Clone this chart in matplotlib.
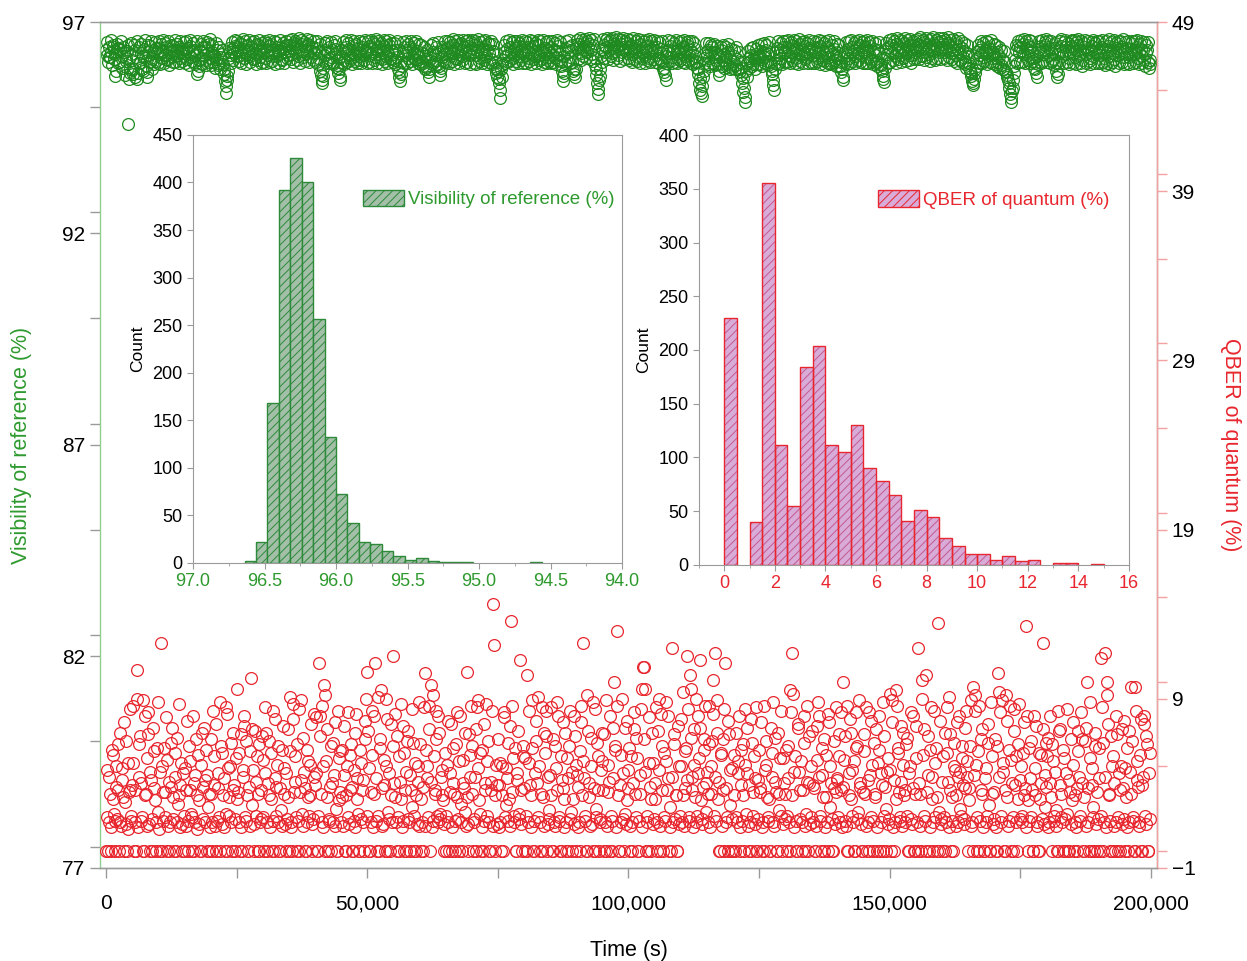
import numpy as np
import matplotlib
matplotlib.use("Agg")
import matplotlib.pyplot as plt
from matplotlib.ticker import MultipleLocator
from matplotlib.patches import Patch

plt.rcParams['font.family'] = ['Liberation Sans', 'DejaVu Sans']
plt.rcParams['hatch.linewidth'] = 0.7

# ---- data -------------------------------------------------------------
STEP_S = 250  # sampling step of each series (s); series B is offset by half a step

# visibility of reference (%), 20 samples per row = 5000 s per row
VIS_A = [
    96.35, 96.22, 96.41, 96.18, 96.30, 96.45, 96.12, 95.72, 96.28, 96.38, 96.05, 96.33, 96.20, 96.42, 95.95, 96.15, 96.31, 94.59, 95.80, 96.24,
    96.10, 95.78, 96.33, 96.18, 95.65, 96.40, 96.02, 96.27, 95.85, 96.36, 96.14, 95.70, 96.30, 96.21, 96.44, 95.90, 96.26, 96.35, 96.08, 96.29,
    96.38, 96.25, 96.47, 96.16, 96.32, 96.22, 96.40, 96.11, 96.29, 96.36, 96.19, 96.44, 96.27, 96.05, 96.34, 96.23, 96.41, 96.15, 96.31, 96.26,
    96.20, 96.37, 96.12, 96.30, 96.43, 96.18, 96.28, 96.06, 96.35, 96.24, 95.77, 95.95, 96.32, 96.15, 96.40, 96.22, 96.09, 96.33, 96.26, 96.48,
    96.15, 96.28, 96.05, 96.22, 96.12, 96.33, 95.98, 96.18, 96.09, 96.25, 95.88, 95.60, 95.32, 95.72, 96.14, 96.30, 96.21, 96.38, 96.27, 96.44,
    96.32, 96.41, 96.20, 96.47, 96.29, 96.36, 96.15, 96.43, 96.25, 96.33, 96.19, 96.40, 96.28, 96.12, 96.37, 96.24, 96.45, 96.30, 96.18, 96.35,
    96.27, 96.39, 96.16, 96.33, 96.22, 96.44, 96.30, 96.08, 96.35, 96.26, 96.42, 96.19, 96.31, 96.24, 96.40, 96.13, 96.36, 96.28, 96.46, 96.21,
    96.34, 96.45, 96.25, 96.38, 96.50, 96.29, 96.41, 96.20, 96.36, 96.47, 96.31, 96.24, 96.43, 96.35, 96.27, 96.49, 96.32, 96.18, 96.40, 96.30,
    96.26, 96.38, 96.15, 96.31, 95.85, 95.62, 95.72, 96.22, 96.35, 96.10, 96.29, 96.40, 96.18, 96.33, 96.05, 96.25, 96.37, 95.92, 96.14, 95.70,
    96.20, 96.34, 96.11, 96.28, 96.42, 96.23, 96.36, 96.16, 96.30, 96.45, 96.25, 96.19, 96.38, 96.27, 96.09, 96.33, 96.41, 96.22, 96.35, 96.29,
    96.31, 96.44, 96.21, 96.36, 96.26, 96.48, 96.17, 96.33, 96.40, 96.24, 96.37, 96.12, 96.30, 96.43, 96.20, 96.35, 96.27, 96.46, 96.15, 96.32,
    96.25, 96.10, 96.33, 96.18, 95.82, 95.60, 96.05, 96.29, 96.40, 96.22, 96.35, 96.14, 96.30, 96.42, 96.19, 96.36, 96.26, 96.09, 96.32, 96.24,
    96.18, 96.08, 96.27, 96.02, 96.20, 95.94, 96.12, 95.70, 96.25, 96.15, 96.30, 96.05, 96.22, 96.11, 96.28, 95.96, 95.75, 96.17, 96.33, 96.24,
    96.36, 96.25, 96.41, 96.20, 96.32, 96.45, 96.27, 96.14, 96.38, 96.29, 96.47, 96.23, 96.34, 96.19, 96.40, 96.30, 96.44, 96.26, 96.35, 96.22,
    96.39, 96.28, 96.46, 96.21, 96.33, 96.42, 96.16, 96.30, 96.37, 96.25, 96.43, 96.19, 96.35, 96.27, 96.48, 96.13, 96.31, 96.24, 96.05, 95.88,
    95.85, 95.55, 95.20, 95.70, 96.10, 96.28, 96.19, 96.36, 96.25, 96.41, 96.30, 96.15, 96.33, 96.22, 96.38, 96.27, 96.44, 96.20, 96.31, 96.26,
    96.34, 96.21, 96.40, 96.28, 96.15, 96.37, 96.25, 96.43, 96.19, 96.32, 96.27, 96.46, 96.22, 96.35, 96.12, 96.30, 96.39, 96.24, 96.33, 96.18,
    96.29, 96.40, 96.22, 96.35, 96.16, 96.31, 96.44, 96.25, 96.08, 95.85, 95.60, 96.20, 96.36, 96.27, 96.42, 96.18, 96.33, 96.05, 95.90, 95.70,
    96.38, 96.47, 96.30, 96.42, 96.26, 96.51, 96.35, 96.44, 96.29, 96.40, 96.48, 96.33, 96.25, 96.45, 96.15, 95.90, 95.55, 95.30, 95.72, 96.20,
    96.37, 96.46, 96.28, 96.41, 96.52, 96.33, 96.44, 96.26, 96.39, 96.49, 96.31, 96.43, 96.22, 96.38, 96.47, 96.30, 96.42, 96.35, 96.50, 96.27,
    96.40, 96.32, 96.45, 96.24, 96.38, 96.29, 96.43, 96.18, 96.35, 96.47, 96.27, 96.39, 96.21, 96.34, 96.44, 96.30, 96.15, 96.36, 96.26, 96.41,
    96.33, 96.22, 96.40, 96.14, 96.28, 96.37, 96.05, 95.92, 95.75, 96.20, 96.35, 96.27, 96.43, 96.18, 96.31, 96.39, 96.24, 96.34, 96.12, 96.29,
    96.36, 96.25, 96.42, 96.19, 96.31, 96.45, 96.23, 96.34, 96.12, 96.29, 96.38, 96.20, 96.05, 95.90, 95.55, 95.40, 95.25, 95.70, 96.15, 96.30,
    96.22, 96.35, 96.14, 96.28, 96.40, 96.17, 96.30, 96.09, 96.24, 95.85, 96.19, 96.33, 96.11, 96.25, 96.04, 96.18, 96.29, 95.95, 96.12, 96.00,
    96.08, 96.20, 95.98, 96.12, 95.90, 96.05, 95.75, 95.55, 95.35, 95.10, 95.85, 96.02, 96.15, 96.07, 96.22, 96.00, 96.18, 96.10, 96.25, 96.14,
    96.20, 96.32, 96.12, 96.27, 96.18, 96.35, 96.08, 96.24, 96.30, 95.95, 95.78, 95.50, 96.02, 96.28, 96.38, 96.21, 96.33, 96.16, 96.41, 96.26,
    96.30, 96.42, 96.23, 96.36, 96.19, 96.45, 96.28, 96.33, 96.14, 96.39, 96.25, 96.47, 96.21, 96.34, 96.27, 96.43, 96.17, 96.31, 96.38, 96.24,
    96.35, 96.22, 96.41, 96.29, 96.15, 96.37, 96.26, 96.44, 96.20, 96.32, 96.08, 96.28, 96.40, 96.18, 96.33, 96.02, 96.25, 96.36, 96.11, 96.21,
    96.14, 96.26, 95.95, 96.05, 95.70, 96.18, 96.30, 96.22, 96.36, 96.15, 96.28, 96.41, 96.24, 96.33, 96.19, 96.38, 96.27, 96.45, 96.21, 96.35,
    96.29, 96.40, 96.18, 96.34, 96.25, 96.43, 96.12, 96.31, 96.37, 96.22, 96.06, 96.33, 96.27, 95.98, 95.85, 95.65, 96.15, 96.36, 96.24, 96.41,
    96.32, 96.45, 96.26, 96.38, 96.20, 96.47, 96.34, 96.29, 96.42, 96.23, 96.36, 96.50, 96.27, 96.40, 96.31, 96.46, 96.22, 96.37, 96.44, 96.30,
    96.41, 96.33, 96.49, 96.28, 96.44, 96.37, 96.52, 96.30, 96.46, 96.39, 96.25, 96.43, 96.35, 96.48, 96.31, 96.45, 96.38, 96.53, 96.29, 96.42,
    96.36, 96.47, 96.30, 96.42, 96.51, 96.34, 96.45, 96.27, 96.40, 96.33, 96.48, 96.22, 96.37, 96.43, 96.25, 96.39, 96.18, 96.31, 96.08, 96.26,
    96.20, 95.92, 95.80, 95.60, 95.55, 95.88, 96.12, 96.28, 96.35, 96.22, 96.40, 96.30, 96.17, 96.33, 96.26, 96.42, 96.21, 96.36, 96.14, 96.29,
    96.25, 96.15, 96.30, 96.06, 96.20, 95.98, 96.12, 95.90, 96.05, 95.82, 95.70, 95.55, 95.30, 95.10, 95.45, 95.80, 96.10, 96.35, 96.44, 96.28,
    96.40, 96.31, 96.47, 96.25, 96.38, 96.45, 96.22, 96.34, 96.41, 96.28, 96.16, 96.03, 95.80, 96.20, 96.37, 96.29, 96.43, 96.24, 96.35, 96.46,
    96.30, 96.42, 96.21, 96.36, 96.27, 96.12, 96.38, 96.02, 95.70, 96.25, 96.33, 96.44, 96.19, 96.31, 96.40, 96.24, 96.35, 96.15, 96.29, 96.43,
    96.26, 96.39, 96.18, 96.33, 96.45, 96.22, 96.35, 96.10, 96.30, 96.41, 96.24, 96.37, 96.28, 96.16, 96.34, 96.43, 96.20, 96.32, 96.39, 96.25,
    96.35, 96.22, 96.41, 96.28, 96.14, 96.37, 96.30, 96.44, 96.19, 96.33, 96.26, 96.40, 96.12, 96.31, 96.38, 96.23, 96.36, 96.27, 96.42, 96.18,
    96.32, 96.24, 96.39, 96.17, 96.30, 96.36, 96.21, 96.34, 96.26, 96.40, 96.15, 96.29, 96.37, 96.20, 96.33, 96.11, 96.27, 96.35, 96.06, 96.00,
]

VIS_B = [
    96.52, 96.05, 96.18, 96.58, 95.98, 96.40, 96.25, 95.85, 96.48, 96.02, 96.36, 96.55, 95.92, 96.30, 95.75, 96.08, 96.45, 95.65, 95.90, 96.50,
    95.88, 96.45, 95.70, 96.55, 95.80, 96.02, 96.48, 95.90, 96.20, 96.58, 95.97, 95.82, 96.46, 96.06, 96.55, 96.12, 96.00, 96.52, 96.38, 96.04,
    96.55, 96.00, 96.30, 96.58, 96.04, 96.50, 96.12, 96.56, 95.98, 96.46, 96.35, 96.06, 96.57, 96.20, 96.48, 96.02, 96.55, 96.36, 96.08, 96.52,
    96.02, 96.54, 96.38, 95.98, 96.57, 96.08, 96.50, 96.22, 96.00, 96.55, 95.85, 96.10, 96.48, 96.00, 96.56, 96.40, 95.98, 96.52, 96.06, 96.60,
    95.98, 96.45, 96.20, 95.92, 96.50, 96.02, 96.40, 95.88, 96.35, 96.00, 95.78, 95.48, 95.62, 95.85, 96.38, 96.02, 96.52, 96.10, 96.57, 96.20,
    96.56, 96.08, 96.50, 96.02, 96.60, 96.14, 96.54, 96.00, 96.45, 96.58, 96.06, 96.52, 96.12, 96.56, 96.00, 96.47, 96.10, 96.58, 96.04, 96.50,
    96.05, 96.55, 96.02, 96.50, 96.57, 96.06, 96.48, 96.20, 96.56, 96.00, 96.52, 96.35, 96.04, 96.58, 96.10, 96.50, 96.02, 96.55, 96.15, 96.46,
    96.58, 96.12, 96.60, 96.06, 96.55, 96.48, 96.10, 96.62, 96.04, 96.57, 96.18, 96.52, 96.08, 96.60, 96.45, 96.05, 96.58, 96.40, 96.10, 96.56,
    96.05, 96.55, 96.00, 96.48, 95.75, 95.55, 95.92, 96.50, 96.02, 96.56, 96.12, 96.04, 96.52, 96.00, 96.45, 96.55, 95.98, 95.80, 95.88, 95.62,
    96.02, 96.52, 96.00, 96.58, 96.06, 96.50, 96.10, 96.57, 96.00, 96.55, 96.08, 96.48, 96.02, 96.56, 96.20, 96.04, 96.53, 96.10, 96.57, 96.02,
    96.55, 96.06, 96.58, 96.04, 96.52, 96.10, 96.60, 96.02, 96.55, 96.15, 96.50, 96.00, 96.57, 96.08, 96.54, 96.04, 96.58, 96.12, 96.50, 96.06,
    96.50, 96.00, 96.55, 95.90, 95.70, 95.78, 95.95, 96.52, 96.04, 96.56, 96.02, 96.48, 96.08, 96.55, 96.00, 96.50, 96.12, 96.56, 96.02, 96.48,
    96.00, 96.45, 95.95, 96.40, 95.88, 96.35, 95.82, 95.90, 96.46, 96.00, 96.50, 95.95, 96.42, 96.00, 96.52, 95.85, 95.92, 96.40, 96.05, 96.55,
    96.05, 96.56, 96.02, 96.52, 96.08, 96.60, 96.00, 96.55, 96.12, 96.57, 96.04, 96.50, 96.10, 96.58, 96.02, 96.54, 96.06, 96.57, 96.00, 96.52,
    96.58, 96.04, 96.55, 96.00, 96.60, 96.08, 96.52, 96.02, 96.56, 96.10, 96.58, 96.00, 96.50, 96.05, 96.55, 96.00, 96.48, 95.92, 95.80, 95.70,
    95.65, 95.40, 95.90, 95.98, 96.45, 96.02, 96.55, 96.06, 96.58, 96.10, 96.52, 96.00, 96.56, 96.08, 96.55, 96.02, 96.50, 96.10, 96.57, 96.04,
    96.56, 96.02, 96.52, 96.08, 96.58, 96.00, 96.55, 96.12, 96.50, 96.04, 96.57, 96.10, 96.54, 96.00, 96.58, 96.06, 96.52, 96.02, 96.56, 96.08,
    96.02, 96.55, 96.06, 96.50, 96.00, 96.57, 96.10, 96.52, 95.95, 95.72, 95.80, 96.02, 96.55, 96.08, 96.58, 96.02, 96.45, 95.85, 95.78, 95.88,
    96.58, 96.12, 96.62, 96.10, 96.57, 96.20, 96.60, 96.15, 96.55, 96.62, 96.12, 96.58, 96.08, 96.60, 95.98, 95.75, 95.42, 95.62, 95.88, 96.05,
    96.60, 96.15, 96.57, 96.62, 96.12, 96.58, 96.20, 96.63, 96.10, 96.57, 96.65, 96.15, 96.60, 96.08, 96.58, 96.62, 96.12, 96.55, 96.60, 96.14,
    96.10, 96.58, 96.06, 96.62, 96.12, 96.55, 96.08, 96.60, 96.04, 96.57, 96.14, 96.55, 96.02, 96.58, 96.10, 96.60, 96.05, 96.56, 96.12, 96.58,
    96.06, 96.56, 96.02, 96.52, 96.10, 96.55, 95.90, 95.82, 95.62, 96.04, 96.57, 96.08, 96.55, 96.02, 96.50, 96.06, 96.58, 96.04, 96.52, 96.10,
    96.55, 96.06, 96.58, 96.02, 96.52, 96.10, 96.56, 96.04, 96.55, 96.00, 96.50, 96.08, 95.92, 95.78, 95.68, 95.32, 95.48, 95.85, 96.02, 96.50,
    96.00, 96.50, 95.95, 96.45, 96.02, 96.48, 95.98, 96.44, 96.00, 95.75, 96.40, 95.96, 96.46, 95.92, 96.42, 96.00, 96.48, 95.88, 96.36, 95.92,
    96.35, 95.90, 96.40, 95.88, 96.30, 95.85, 95.92, 95.68, 95.45, 95.22, 95.70, 96.32, 95.92, 96.38, 95.95, 96.42, 95.90, 96.36, 96.00, 96.45,
    96.00, 96.48, 95.95, 96.50, 96.02, 96.46, 95.98, 96.52, 96.05, 95.85, 95.62, 95.40, 95.88, 96.00, 96.55, 96.04, 96.50, 96.00, 96.56, 96.06,
    96.56, 96.05, 96.58, 96.02, 96.52, 96.10, 96.57, 96.04, 96.55, 96.00, 96.60, 96.08, 96.52, 96.02, 96.56, 96.12, 96.50, 96.04, 96.57, 96.06,
    96.04, 96.55, 96.02, 96.52, 96.08, 96.57, 96.00, 96.55, 96.10, 96.50, 95.98, 96.54, 96.04, 96.58, 96.00, 96.46, 96.06, 96.55, 95.96, 96.48,
    95.95, 96.45, 95.82, 95.90, 95.62, 96.02, 96.52, 96.00, 96.55, 96.04, 96.57, 96.08, 96.50, 96.02, 96.56, 96.10, 96.58, 96.06, 96.52, 96.04,
    96.55, 96.04, 96.58, 96.02, 96.52, 96.08, 96.56, 96.00, 96.50, 96.04, 95.96, 96.52, 96.00, 95.88, 95.72, 95.58, 95.92, 96.50, 96.04, 96.57,
    96.06, 96.60, 96.10, 96.56, 96.04, 96.62, 96.12, 96.58, 96.06, 96.55, 96.14, 96.62, 96.08, 96.57, 96.10, 96.60, 96.04, 96.55, 96.12, 96.58,
    96.15, 96.60, 96.12, 96.64, 96.20, 96.58, 96.10, 96.62, 96.18, 96.57, 96.08, 96.60, 96.14, 96.65, 96.10, 96.58, 96.16, 96.62, 96.12, 96.56,
    96.62, 96.14, 96.58, 96.10, 96.65, 96.18, 96.57, 96.12, 96.60, 96.08, 96.56, 96.04, 96.62, 96.10, 96.55, 96.06, 96.50, 96.00, 95.92, 96.45,
    96.02, 95.85, 95.72, 95.50, 95.65, 95.80, 95.95, 96.45, 96.04, 96.55, 96.02, 96.50, 96.08, 96.56, 96.00, 96.52, 96.06, 96.57, 96.02, 96.48,
    96.00, 96.45, 95.95, 96.40, 95.92, 96.35, 95.88, 96.32, 95.85, 95.75, 95.62, 95.45, 95.20, 95.38, 95.62, 95.95, 96.45, 96.02, 96.56, 96.06,
    96.57, 96.06, 96.60, 96.04, 96.55, 96.10, 96.58, 96.02, 96.56, 96.08, 95.92, 95.88, 95.70, 96.00, 96.55, 96.04, 96.58, 96.08, 96.52, 96.60,
    96.05, 96.56, 96.02, 96.55, 96.08, 95.98, 96.50, 95.85, 95.78, 96.04, 96.55, 96.60, 96.02, 96.52, 96.57, 96.06, 96.50, 96.00, 96.55, 96.58,
    96.04, 96.57, 96.00, 96.52, 96.60, 96.04, 96.55, 95.96, 96.50, 96.58, 96.02, 96.55, 96.08, 96.00, 96.52, 96.58, 96.02, 96.50, 96.56, 96.04,
    96.56, 96.02, 96.58, 96.06, 95.98, 96.55, 96.04, 96.60, 96.00, 96.52, 96.06, 96.57, 95.96, 96.50, 96.56, 96.02, 96.55, 96.06, 96.60, 96.00,
    96.52, 96.04, 96.56, 96.00, 96.50, 96.55, 96.02, 96.54, 96.06, 96.58, 96.00, 96.48, 96.55, 96.02, 96.52, 95.95, 96.45, 96.52, 95.92, 96.10,
]

# QBER of quantum (%), same sampling
QBER_A = [
    0, 4.8, 1.7, 3.4, 0, 5.7, 2.2, 1.8, 3.8, 6.3, 0, 1.7, 4.2, 3.2, 7.6, 1.6, 0, 5.2, 3.6, 1.8,
    3.9, 8.6, 1.7, 0, 10.7, 4.4, 6.8, 1.8, 8.9, 0, 3.3, 5.5, 8.2, 1.6, 4.7, 0, 7.3, 3.7, 1.7, 6.1,
    2.3, 0, 12.3, 5.0, 1.8, 3.5, 7.9, 0, 4.1, 1.7, 6.4, 3.2, 0, 5.8, 1.7, 2.8, 8.7, 3.9, 1.6, 4.6,
    0, 3.6, 7.7, 1.8, 5.3, 2.2, 0, 4.0, 1.7, 6.6, 3.3, 1.6, 0, 5.1, 3.8, 7.3, 1.7, 4.5, 2.6, 0,
    3.4, 1.7, 8.3, 5.6, 0, 1.8, 3.7, 8.8, 6.2, 1.6, 4.3, 0, 2.2, 8.1, 3.2, 5.0, 1.7, 7.0, 3.9, 0,
    9.6, 3.5, 1.7, 6.9, 0, 4.8, 7.4, 1.8, 3.3, 0, 5.9, 10.2, 2.7, 1.6, 7.1, 4.1, 0, 6.3, 1.7, 3.6,
    5.4, 0, 8.5, 1.7, 4.0, 6.5, 3.1, 0, 1.8, 7.8, 3.8, 5.1, 1.7, 0, 2.4, 6.0, 3.4, 1.6, 4.6, 7.2,
    0, 9.1, 1.7, 8.7, 3.5, 5.6, 0, 1.8, 8.4, 4.2, 2.2, 6.7, 3.7, 0, 1.7, 5.3, 3.3, 7.5, 1.6, 4.4,
    3.9, 7.9, 0, 11.1, 8.0, 1.7, 5.0, 9.8, 9.2, 3.2, 0, 1.8, 6.2, 4.0, 1.7, 7.6, 2.5, 0, 5.5, 3.5,
    1.7, 6.0, 4.5, 0, 3.3, 8.2, 1.6, 5.7, 3.8, 0, 1.8, 7.0, 4.3, 2.2, 0, 5.2, 3.6, 1.7, 6.6, 9.0,
    10.6, 4.9, 0, 1.7, 8.3, 3.4, 11.1, 1.8, 9.1, 0, 6.1, 3.7, 1.6, 5.4, 9.0, 0, 2.3, 4.6, 7.5, 1.7,
    11.5, 3.2, 1.7, 6.8, 0, 4.1, 8.7, 1.8, 5.8, 3.6, 0, 7.1, 1.7, 4.5, 2.6, 6.4, 0, 3.3, 1.6, 5.0,
    8.8, 0, 1.7, 3.8, 10.5, 6.0, 4.3, 8.6, 0, 9.8, 1.8, 5.6, 3.4, 8.3, 1.7, 7.0, 2.2, 4.8, 3.0, 1.6,
    0, 5.1, 1.7, 3.5, 7.5, 0, 4.0, 1.8, 6.3, 3.2, 0, 8.0, 1.7, 5.4, 3.7, 2.3, 10.6, 1.6, 6.9, 4.4,
    3.4, 0, 1.7, 7.2, 8.5, 4.9, 2.2, 0, 6.0, 1.8, 3.6, 8.7, 5.3, 1.7, 0, 4.1, 14.6, 12.2, 3.3, 1.6,
    6.6, 3.9, 1.7, 5.0, 0, 8.2, 2.7, 4.3, 1.8, 7.4, 13.6, 3.5, 1.7, 6.1, 0, 4.6, 2.2, 11.3, 1.6, 5.6,
    3.7, 0, 10.4, 1.7, 5.2, 3.3, 8.9, 0, 1.8, 6.5, 4.0, 9.1, 1.7, 3.4, 0, 7.0, 5.8, 8.3, 1.6, 2.4,
    4.5, 8.5, 0, 1.7, 6.2, 3.6, 8.0, 1.8, 0, 4.2, 7.6, 3.1, 1.7, 5.5, 0, 8.3, 2.3, 4.7, 1.6, 6.8,
    0, 3.8, 1.7, 5.9, 8.6, 12.3, 4.3, 1.8, 0, 7.1, 3.2, 5.0, 1.6, 8.8, 0, 2.5, 6.4, 3.6, 1.7, 4.8,
    5.3, 0, 1.7, 8.9, 3.5, 4.1, 0, 1.8, 7.3, 10.0, 6.0, 13.0, 3.3, 0, 1.7, 9.0, 4.6, 2.2, 1.6, 7.7,
    3.7, 0, 5.6, 1.7, 8.2, 3.4, 6.7, 0, 1.8, 4.5, 9.6, 10.9, 10.9, 9.6, 1.7, 0, 5.2, 3.1, 7.0, 1.6,
    4.0, 8.5, 1.7, 9.0, 0, 8.1, 3.6, 5.8, 1.8, 8.8, 4.3, 0, 2.6, 12.0, 1.7, 6.3, 3.3, 0, 7.4, 1.6,
    5.0, 1.7, 9.4, 3.7, 6.1, 11.5, 1.8, 10.4, 9.6, 4.4, 7.2, 3.2, 1.7, 8.0, 5.5, 11.3, 1.6, 3.8, 6.6, 2.3,
    4.7, 1.7, 8.6, 3.4, 6.5, 10.1, 11.7, 1.8, 8.9, 4.1, 0, 5.7, 3.6, 8.4, 11.1, 1.7, 0, 6.9, 2.7, 4.9,
    0, 3.3, 7.0, 1.7, 5.3, 0, 3.9, 1.8, 6.3, 8.4, 2.2, 4.6, 0, 1.7, 7.8, 3.5, 5.6, 1.6, 0, 4.2,
    6.0, 3.7, 0, 1.7, 8.6, 5.1, 3.2, 1.8, 0, 7.3, 4.4, 1.7, 6.7, 3.5, 0, 2.4, 5.5, 8.3, 1.6, 4.0,
    3.4, 0, 6.2, 1.7, 9.5, 11.7, 9.3, 4.7, 1.8, 0, 7.5, 3.6, 5.3, 1.7, 8.0, 0, 2.2, 4.1, 6.8, 1.6,
    5.0, 1.7, 3.7, 0, 7.4, 8.8, 4.4, 1.8, 6.1, 3.2, 0, 5.7, 1.7, 8.1, 2.6, 4.0, 0, 6.5, 1.6, 3.5,
    4.3, 6.9, 1.7, 3.6, 10.0, 5.4, 1.8, 8.6, 0, 3.3, 7.0, 4.8, 1.7, 0, 8.2, 6.2, 2.3, 3.8, 1.6, 0,
    5.9, 3.4, 8.5, 1.7, 0, 4.5, 7.7, 1.8, 6.4, 3.2, 0, 5.2, 8.0, 1.7, 3.9, 0, 6.8, 2.5, 4.7, 1.6,
    9.3, 0, 8.9, 4.2, 1.7, 9.5, 6.1, 3.5, 1.8, 7.4, 5.1, 3.3, 1.7, 6.7, 0, 4.6, 8.2, 1.6, 3.7, 0,
    5.5, 1.7, 12.0, 3.4, 0, 10.1, 7.2, 1.8, 10.4, 4.5, 0, 6.0, 3.1, 1.7, 8.3, 5.2, 0, 13.5, 2.3, 1.6,
    4.1, 0, 7.0, 1.7, 5.8, 9.1, 3.6, 0, 1.8, 6.4, 4.8, 3.3, 1.7, 8.0, 2.5, 5.5, 3.9, 1.6, 7.3, 4.4,
    0, 3.7, 8.9, 1.7, 9.7, 9.2, 5.1, 0, 8.6, 1.8, 6.6, 3.4, 0, 4.3, 1.7, 7.5, 2.7, 0, 5.6, 1.6,
    3.5, 0, 6.2, 10.5, 9.4, 1.7, 8.9, 4.7, 0, 9.2, 3.2, 1.8, 8.6, 5.4, 0, 7.1, 3.9, 1.7, 6.3, 8.7,
    4.2, 1.7, 5.8, 3.3, 13.3, 8.0, 0, 1.8, 6.5, 3.6, 0, 4.9, 7.4, 1.7, 0, 3.1, 5.7, 12.3, 1.6, 4.5,
    3.8, 6.7, 1.7, 4.0, 0, 5.3, 1.8, 2.4, 0, 8.3, 7.2, 3.4, 1.7, 6.0, 0, 4.6, 2.2, 0, 3.5, 1.6,
    5.1, 0, 1.7, 3.7, 7.1, 4.4, 1.8, 6.6, 0, 3.2, 7.3, 10.0, 1.7, 5.5, 0, 3.9, 2.6, 6.2, 1.6, 0,
    4.3, 0, 11.4, 6.4, 1.7, 11.7, 10.0, 7.5, 3.4, 1.8, 0, 5.6, 4.0, 1.7, 6.9, 0, 3.6, 5.0, 1.6, 7.7,
    0, 3.2, 6.1, 1.7, 4.7, 9.7, 1.8, 0, 9.7, 5.3, 3.8, 1.7, 7.8, 0, 4.4, 7.5, 1.6, 6.3, 0, 5.8,
]

QBER_B = [
    2.0, 0, 4.4, 1.4, 6.0, 3.1, 0, 5.0, 1.9, 3.6, 7.0, 1.5, 4.9, 0, 2.9, 6.5, 1.3, 3.5, 8.4, 2.1,
    5.2, 0, 3.6, 9.0, 1.4, 6.3, 4.0, 2.0, 0, 8.0, 3.4, 1.5, 6.9, 0, 4.2, 1.9, 5.9, 3.0, 0, 8.8,
    1.3, 4.7, 0, 3.5, 6.1, 2.0, 5.4, 1.5, 0, 3.8, 7.3, 1.9, 4.4, 0, 6.7, 3.3, 1.4, 5.2, 0, 2.1,
    4.9, 1.5, 0, 6.2, 3.6, 2.0, 8.0, 0, 4.5, 1.3, 5.7, 3.0, 0, 7.0, 1.9, 4.2, 6.0, 0, 3.4, 1.4,
    6.6, 0, 3.9, 1.5, 7.5, 4.6, 2.0, 0, 5.8, 3.3, 1.4, 8.5, 0, 4.9, 2.1, 6.4, 0, 3.6, 1.9, 5.5,
    3.1, 5.8, 0, 1.4, 4.4, 8.0, 2.0, 6.5, 0, 3.8, 1.5, 7.2, 4.8, 0, 2.1, 5.6, 3.4, 0, 1.9, 6.8,
    2.0, 4.6, 7.0, 0, 3.3, 1.4, 5.8, 8.3, 0, 4.3, 2.1, 6.2, 0, 3.7, 1.5, 7.4, 4.9, 0, 1.9, 3.2,
    5.9, 1.4, 0, 7.8, 4.1, 2.0, 6.3, 0, 3.5, 8.9, 1.5, 4.7, 0, 6.0, 3.2, 2.1, 5.1, 0, 1.9, 8.1,
    4.6, 0, 2.1, 6.8, 3.4, 8.6, 1.4, 0, 5.3, 7.2, 1.9, 3.8, 0, 6.4, 4.5, 1.5, 0, 8.3, 3.0, 5.9,
    3.2, 1.5, 7.4, 0, 5.0, 2.0, 3.6, 6.3, 0, 4.8, 1.4, 8.1, 3.1, 0, 6.0, 1.9, 4.2, 0, 7.7, 2.1,
    7.1, 0, 3.5, 5.7, 1.4, 8.0, 4.3, 0, 2.1, 6.6, 9.5, 1.5, 3.9, 0, 5.0, 7.8, 1.9, 0, 3.3, 6.2,
    4.0, 8.1, 0, 2.0, 5.6, 3.1, 1.4, 7.4, 0, 4.7, 6.5, 1.9, 0, 3.6, 8.4, 2.1, 5.2, 0, 4.1, 1.5,
    6.3, 3.1, 0, 8.5, 1.5, 5.0, 2.0, 7.2, 4.1, 1.4, 9.2, 3.6, 6.6, 2.1, 8.0, 1.9, 4.4, 3.3, 0, 5.8,
    2.1, 7.7, 0, 4.6, 1.4, 6.1, 3.4, 0, 8.2, 1.9, 5.3, 2.8, 0, 4.0, 7.0, 1.5, 3.2, 0, 5.7, 8.6,
    6.2, 1.9, 4.4, 0, 8.9, 3.0, 5.8, 1.4, 0, 7.5, 4.0, 2.1, 6.5, 0, 3.6, 8.3, 1.5, 0, 5.1, 3.9,
    1.4, 5.2, 0, 3.3, 7.9, 2.0, 4.9, 6.4, 3.1, 1.5, 8.6, 5.5, 2.1, 0, 4.2, 7.1, 1.9, 3.6, 0, 6.2,
    5.5, 2.1, 0, 8.3, 3.9, 1.4, 6.1, 0, 4.6, 7.7, 2.0, 5.0, 0, 8.5, 3.2, 1.5, 6.8, 0, 4.4, 1.9,
    3.3, 0, 6.6, 1.5, 4.9, 8.8, 2.0, 0, 5.6, 3.7, 1.4, 7.0, 0, 4.3, 6.2, 1.9, 0, 3.1, 8.0, 5.1,
    4.5, 1.4, 0, 7.6, 3.3, 5.3, 2.1, 0, 9.2, 4.0, 1.5, 6.7, 0, 3.7, 8.4, 2.0, 5.6, 0, 1.9, 7.0,
    3.6, 6.9, 0, 1.5, 5.1, 8.0, 2.1, 0, 4.3, 6.2, 1.4, 8.6, 0, 3.9, 5.7, 1.9, 0, 7.3, 3.0, 4.8,
    6.1, 1.5, 0, 4.0, 7.2, 2.0, 5.5, 0, 3.4, 8.4, 1.4, 6.6, 4.7, 0, 2.1, 7.9, 3.8, 0, 5.2, 1.9,
    3.1, 0, 7.1, 4.8, 1.5, 6.2, 0, 2.0, 5.3, 3.6, 8.0, 1.4, 0, 4.4, 6.9, 1.9, 3.3, 0, 5.0, 2.1,
    7.8, 3.3, 1.5, 5.9, 4.2, 8.4, 2.0, 6.7, 3.6, 1.4, 5.1, 9.0, 2.1, 4.6, 7.3, 3.0, 1.9, 6.0, 8.6, 4.0,
    3.4, 6.3, 1.4, 5.0, 8.1, 2.1, 4.4, 7.0, 3.1, 0, 5.8, 1.5, 6.6, 0, 3.7, 2.0, 7.7, 4.8, 0, 1.9,
    5.7, 0, 2.0, 4.6, 8.0, 1.4, 6.0, 3.3, 0, 5.1, 7.3, 1.5, 3.9, 0, 6.4, 2.1, 4.3, 8.5, 0, 1.9,
    3.5, 7.6, 1.4, 0, 4.8, 6.5, 2.0, 3.1, 0, 5.8, 8.8, 1.5, 4.1, 0, 7.0, 3.4, 2.1, 0, 5.5, 1.9,
    6.0, 2.1, 4.3, 0, 8.2, 3.3, 1.4, 5.6, 0, 7.3, 4.7, 1.9, 0, 3.6, 6.4, 1.5, 8.6, 0, 4.0, 2.0,
    7.1, 3.9, 0, 1.5, 5.4, 8.0, 2.1, 0, 4.5, 6.6, 1.4, 3.2, 0, 7.6, 5.0, 1.9, 0, 3.7, 8.5, 4.2,
    2.0, 5.6, 8.2, 1.4, 3.8, 6.8, 1.5, 0, 4.6, 7.8, 3.1, 2.1, 5.3, 0, 6.1, 1.9, 8.9, 4.0, 0, 3.5,
    6.9, 1.5, 0, 4.2, 8.2, 2.0, 5.1, 0, 3.4, 7.2, 1.4, 6.0, 0, 4.6, 8.8, 2.1, 3.8, 0, 5.5, 1.9,
    4.8, 7.6, 1.4, 0, 3.1, 8.6, 5.8, 2.0, 4.1, 1.5, 7.0, 3.6, 6.3, 2.1, 0, 5.0, 1.9, 8.0, 0, 3.4,
    7.4, 0, 4.0, 1.5, 9.0, 5.7, 2.1, 0, 3.5, 6.8, 1.4, 8.5, 4.4, 0, 2.0, 6.1, 3.2, 0, 7.7, 1.9,
    5.6, 2.0, 0, 8.5, 4.1, 1.4, 6.9, 3.2, 0, 5.0, 1.5, 7.6, 4.4, 4.7, 2.1, 6.2, 1.9, 3.7, 8.3, 5.3,
    3.0, 6.2, 1.5, 0, 4.5, 8.3, 2.0, 5.9, 0, 3.6, 7.2, 1.4, 0, 4.9, 2.1, 6.4, 0, 8.8, 3.4, 1.9,
    6.6, 1.4, 0, 4.4, 8.2, 2.1, 5.2, 0, 3.6, 7.7, 1.5, 6.0, 0, 4.0, 2.0, 8.4, 5.6, 0, 3.1, 1.9,
    5.0, 2.1, 7.6, 3.7, 1.4, 3.0, 6.1, 4.3, 2.0, 0, 8.0, 3.3, 1.5, 0, 5.8, 4.0, 1.9, 7.2, 2.6, 6.4,
    5.6, 1.4, 8.0, 3.2, 6.3, 2.1, 4.7, 1.5, 0, 7.1, 3.9, 2.0, 0, 5.5, 1.9, 8.4, 0, 4.2, 6.6, 3.0,
    7.6, 3.3, 1.4, 0, 5.9, 2.1, 8.2, 4.0, 0, 6.5, 1.5, 3.7, 0, 8.8, 4.9, 2.0, 0, 7.0, 3.5, 1.9,
    6.1, 2.1, 8.5, 0, 4.4, 1.4, 9.2, 3.3, 0, 6.8, 5.0, 1.5, 0, 8.0, 2.0, 4.6, 0, 7.2, 3.7, 1.9,
    4.9, 1.4, 0, 7.1, 3.4, 6.5, 2.0, 0, 8.3, 4.2, 1.5, 5.7, 0, 3.9, 8.0, 2.1, 6.8, 0, 4.6, 1.9,
]

# histogram of visibility: bin starts (%) and counts, bin width 0.08
VIS_BIN_START = [96.56, 96.48, 96.40, 96.32, 96.24, 96.16, 96.08, 96.00, 95.92, 95.84,
                 95.76, 95.68, 95.60, 95.52, 95.44, 95.36, 95.28, 95.20, 95.12, 95.04, 94.56]
VIS_COUNT = [2, 22, 168, 392, 426, 400, 257, 132, 72, 42,
             22, 20, 13, 7, 3, 5, 2, 1, 1, 1, 1]
VIS_BIN_W = 0.08

# histogram of QBER: bin starts (%) and counts, bin width 0.5
QBER_BIN_START = [0.0, 1.0, 1.5, 2.0, 2.5, 3.0, 3.5, 4.0, 4.5, 5.0, 5.5, 6.0, 6.5, 7.0,
                  7.5, 8.0, 8.5, 9.0, 9.5, 10.0, 10.5, 11.0, 11.5, 12.0, 13.0, 13.5, 14.5]
QBER_COUNT = [230, 40, 355, 112, 55, 184, 204, 112, 105, 130, 90, 78, 65, 41,
              51, 45, 25, 18, 10, 10, 5, 8, 4, 5, 2, 2, 1]
QBER_BIN_W = 0.5

XTICKS = [0, 50000, 100000, 150000, 200000]
XTICK_LABELS = ['0', '50,000', '100,000', '150,000', '200,000']

GREEN = '#1f8a1f'
RED = '#e8262e'
t_a = np.arange(len(VIS_A)) * STEP_S
t_b = np.arange(len(VIS_B)) * STEP_S + STEP_S / 2
tq_a = np.arange(len(QBER_A)) * STEP_S
tq_b = np.arange(len(QBER_B)) * STEP_S + STEP_S / 2

# ---- main axes --------------------------------------------------------
fig = plt.figure(figsize=(12.47, 9.61), dpi=100)
ax = fig.add_axes([0.0802, 0.0968, 0.8476, 0.8803])
ax2 = ax.twinx()

for tt, vv in ((t_a, VIS_A), (t_b, VIS_B)):
    ax.plot(tt, vv, 'o', ms=8.5, mfc='none', mec=GREEN, mew=0.9)
for tt, vv in ((tq_a, QBER_A), (tq_b, QBER_B)):
    ax2.plot(tt, vv, 'o', ms=8.5, mfc='none', mec=RED, mew=0.9)

ax.set_xlim(-1150, 201150)
ax.set_ylim(77, 97)
ax2.set_ylim(-1, 49)
ax.set_xticks(XTICKS)
ax.set_xticklabels(XTICK_LABELS)
ax.xaxis.set_minor_locator(MultipleLocator(25000))
ax.set_yticks([77, 82, 87, 92, 97])
ax.yaxis.set_minor_locator(MultipleLocator(2.5))
ax2.set_yticks([-1, 9, 19, 29, 39, 49])
ax2.set_yticklabels(['\u22121', '9', '19', '29', '39', '49'])
ax2.yaxis.set_minor_locator(MultipleLocator(5))

for a in (ax, ax2):
    for s in a.spines.values():
        s.set_color('#9a9a9a')
        s.set_linewidth(1.0)
ax.spines['left'].set_color('#8fce8f')
ax2.spines['right'].set_color('#f4a0a0')
ax2.spines['left'].set_visible(False)

ax.tick_params(axis='both', which='both', direction='out', length=7, color='#9a9a9a',
               labelsize=15, width=1)
ax.tick_params(axis='x', pad=12)
ax2.tick_params(axis='y', which='both', direction='out', length=7, color='#f4a0a0',
                labelsize=15, width=1)

ax.set_xlabel('Time (s)', fontsize=15.5, labelpad=19)
ax.set_ylabel('Visibility of reference (%)', fontsize=15.5, color='#2e9a2e', labelpad=22)
ax2.set_ylabel('QBER of quantum (%)', fontsize=15.5, color=RED, rotation=270, labelpad=33)

# ---- inset: visibility histogram --------------------------------------
ins1 = fig.add_axes([0.1548, 0.4142, 0.3440, 0.4454])
ins1.bar(VIS_BIN_START, VIS_COUNT, width=VIS_BIN_W, align='edge', color='#a3bfa8',
         edgecolor='#2d8a3a', hatch='////', linewidth=1.0,
         label='Visibility of reference (%)')
ins1.set_xlim(97.0, 94.0)
ins1.set_ylim(0, 450)
ins1.set_xticks([97.0, 96.5, 96.0, 95.5, 95.0, 94.5, 94.0])
ins1.set_xticklabels(['97.0', '96.5', '96.0', '95.5', '95.0', '94.5', '94.0'])
ins1.xaxis.set_minor_locator(MultipleLocator(0.25))
ins1.yaxis.set_major_locator(MultipleLocator(50))
ins1.set_ylabel('Count', fontsize=12.5, labelpad=5)
leg1 = ins1.legend(loc='upper right', frameon=False, fontsize=13.5, handlelength=2.2,
                   handleheight=1.0, handletextpad=0.2, borderaxespad=0,
                   bbox_to_anchor=(1.0, 0.89))
for txt in leg1.get_texts():
    txt.set_color('#2e9a2e')

# ---- inset: QBER histogram --------------------------------------------
ins2 = fig.add_axes([0.5605, 0.4121, 0.3448, 0.4474])
ins2.bar(QBER_BIN_START, QBER_COUNT, width=QBER_BIN_W, align='edge', color='#d9abd8',
         edgecolor='#c45a8e', hatch='////', linewidth=0)
ins2.bar(QBER_BIN_START, QBER_COUNT, width=QBER_BIN_W, align='edge', fill=False,
         edgecolor=RED, linewidth=1.0)
ins2.set_xlim(-1, 16)
ins2.set_ylim(0, 400)
ins2.xaxis.set_major_locator(MultipleLocator(2))
ins2.xaxis.set_minor_locator(MultipleLocator(1))
ins2.yaxis.set_major_locator(MultipleLocator(50))
ins2.set_ylabel('Count', fontsize=12.5, labelpad=5)
h2 = Patch(facecolor='#d9abd8', edgecolor=RED, hatch='////', linewidth=1.0)
leg2 = ins2.legend([h2], ['QBER of quantum (%)'], loc='upper right', frameon=False,
                   fontsize=13.5, handlelength=2.2, handleheight=1.0, handletextpad=0.2,
                   borderaxespad=0, bbox_to_anchor=(0.972, 0.89))
for txt in leg2.get_texts():
    txt.set_color(RED)

for ins, xcol in ((ins1, '#2e9a2e'), (ins2, RED)):
    ins.set_facecolor('white')
    for s in ins.spines.values():
        s.set_color('#9a9a9a')
    ins.tick_params(axis='both', which='both', direction='out', color='#9a9a9a',
                    labelsize=13)
    ins.tick_params(axis='both', which='major', length=4)
    ins.tick_params(axis='both', which='minor', length=2)
    ins.tick_params(axis='x', labelcolor=xcol)

fig.savefig('out.png', dpi=100)
